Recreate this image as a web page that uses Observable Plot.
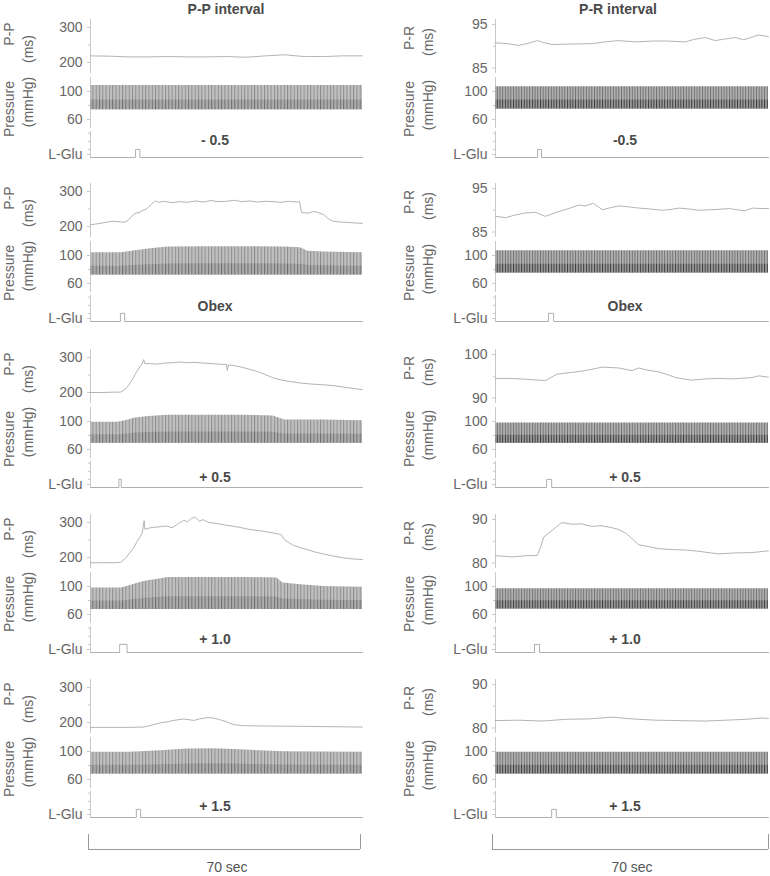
<!DOCTYPE html>
<html><head><meta charset="utf-8">
<script src="https://cdn.jsdelivr.net/npm/d3@7"></script>
<script src="https://cdn.jsdelivr.net/npm/@observablehq/plot@0.6"></script>
<style>
body{margin:0;background:#fff;}
#wrap{position:relative;width:770px;height:876px;overflow:hidden;font-family:"Liberation Sans",Arial,sans-serif;color:#666;}
.lbl{position:absolute;white-space:nowrap;font-size:14px;line-height:1;transform:translate(-50%,-50%);}
.rot{transform:translate(-50%,-50%) rotate(-90deg);}
.bold{font-weight:bold;color:#4a4a4a;}
.cap{color:#555;}
</style></head><body><div id="wrap"></div>
<script>
// ---------------- data ----------------
const timeDomain = [0, 70];
const columnTitles = ["P-P interval", "P-R interval"];
const condLeft = ["- 0.5", "Obex", "+ 0.5", "+ 1.0", "+ 1.5"];
const condRight = ["-0.5", "Obex", "+ 0.5", "+ 1.0", "+ 1.5"];
const ppTicks = [200, 300];
const ppMinor = [250];
const prTicksLo = [85, 85, 90, 80, 80];
const prTicksHi = [95, 95, 100, 90, 90];
const pressureTicks = [60, 100];
const pressureMinor = [80];
const scaleBarSec = [0, 70];
const scaleBarLabel = "70 sec";

// P-P interval (ms), left column
const ppTimeM05 = [0,5,10,15,20,25,30,35,40,45,50,55,60,65,70];
const ppValM05  = [219,218,216,216,217,216,216,217,215,219,222,217,217,219,219];
const ppTimeObex = [0,2,4,5.5,7,8.6,9.5,10.5,11.5,12.5,13.5,14.6,15.5,16.7,17.5,19,21,23,25,27,29,31,33,35,37,39,41,43,45,47,49,51,53,53.8,54.3,56,57.5,58.5,60,61.5,62.5,64,66,68,70];
const ppValObex  = [205,208,212,215,214,212,216,228,238,240,246,252,262,273,269,272,268,271,269,273,270,274,271,272,275,271,273,270,272,271,269,272,270,271,240,238,243,240,234,220,215,213,212,210,209];
const ppTimeP05 = [0,3,6,7.7,8.5,9.5,10.5,11.5,12.5,13.2,13.7,14,15,17,19,21,23,25,27,29,31,33,35,35.2,35.5,37,39,41,43,45,47,49,51,54,57,60,63,66,70];
const ppValP05  = [200,200,201,201,206,216,232,252,270,280,294,282,283,281,284,285,287,285,286,284,283,281,280,263,279,277,272,266,260,251,242,236,232,227,224,222,219,214,208];
const ppTimeP10 = [0,3,6,7.7,9,10,11,12,13.3,13.8,14,15,16,18,19.7,21,22.5,24,25,26,27,28,29,30.5,32.6,35,38,41,44,46,48,49,50,52,54,56,58,60,62.5,65,67.5,70];
const ppValP10  = [185,185,185,186,198,212,226,246,269,305,281,284,286,288,290,285,296,306,302,312,315,304,308,300,297,292,287,280,276,272,268,266,250,236,228,222,215,210,204,199,196,194];
const ppTimeP15 = [0,5,10,13.7,16,18,19.7,22,24,26.6,28,30,31.5,33,35,36.8,39.4,45,55,62,70];
const ppValP15  = [186,186,186,187,193,199,202,207,210,206,210,214,213,209,202,194,191,190,189,188,187];

// P-R interval (ms), right column
const prTimeM05 = [0,3,5.9,8.5,10.8,12.5,14.6,19,24.9,28,31.6,36,40.3,44,48.7,51,53.8,56.4,59,61.5,63.6,65.5,67.4,70];
const prValM05  = [90.8,90.6,90.2,90.7,91.3,90.8,90.4,90.5,90.6,91.0,91.3,91.0,91.2,91.2,91.0,91.6,92.0,91.3,91.7,92.0,91.5,92.0,92.6,92.2];
const prTimeObex = [0,2.6,5,7.7,10.3,12.8,14,16.2,18.5,21.3,23,25.1,27.4,29.5,31.6,34,36.7,39.5,42.8,45,47,49.5,52,54.5,57.2,60,62,64,65.8,68,70];
const prValObex  = [88.6,88.3,88.9,89.4,89.5,88.6,89.0,89.7,90.3,91.2,91.0,91.6,90.1,90.6,91.0,90.8,90.5,90.3,90.0,90.2,90.5,90.3,90.0,90.1,90.2,90.4,90.1,89.9,90.5,90.4,90.4];
const prTimeP05 = [0,4,8,12.8,15.8,19.7,23,27.4,31.6,35,36.7,39,41.9,44,46.2,48,50.4,54,57.2,61,65.8,67.5,70];
const prValP05  = [94.5,94.5,94.3,94.0,95.5,95.9,96.3,97.1,96.9,96.3,96.9,96.4,96.0,95.4,94.7,94.4,94.1,94.4,94.5,94.4,94.7,95.1,94.8];
const prTimeP10 = [0,4.3,8,10.7,11.5,12.4,14.5,17,19.7,22,24.8,27,29.9,31.6,33.5,35,36.7,39,41.9,45,48.7,52,57.2,61,65.8,70];
const prValP10  = [81.7,81.4,81.7,81.7,83.5,86.0,87.5,89.3,88.9,89.0,88.4,88.6,88.1,87.7,86.8,85.6,84.2,83.8,83.3,83.1,83.0,82.7,82.1,82.3,82.4,82.8];
const prTimeP15 = [0,6,12,18,24,29.9,35,41,47,53.8,59,64,68.4,70];
const prValP15  = [81.7,81.8,81.6,82.0,82.1,82.5,82.1,81.8,81.7,81.6,81.8,82.0,82.3,82.2];

// Blood pressure envelope (mmHg), left column
const bpTimeLM05 = [0,35,70];
const bpTopLM05  = [108.5,108.5,108.5];
const bpBotLM05  = [74,74,74];
const bpTimeLObex = [0,8,12,16,20,30,40,50,54,56,60,70];
const bpTopLObex  = [104,104,107,110,112,112.5,112.5,112,111,106,105,104];
const bpBotLObex  = [72,72,72,72,72,72,72,72,72,72,72,72];
const bpTimeLP05 = [0,7,9,11.5,15,20,30,40,47,50,60,70];
const bpTopLP05  = [99,99,101,105,107,109,109,109,108,102,102,101];
const bpBotLP05  = [69,69,69,69,69,69,69,69,69,69,69,69];
const bpTimeLP10 = [0,8,10,13.7,17,20,30,40,48,49.5,55,60,70];
const bpTopLP10  = [97.7,98,101,107,110,113,113,113,112,105,102,100,99];
const bpBotLP10  = [67,67,67,67,67,67,67,67,67,67,67,67,67];
const bpTimeLP15 = [0,10,18,25,32,40,50,70];
const bpTopLP15  = [99,99,101,103.5,104,102,99.5,99];
const bpBotLP15  = [68,68,68,68,68,68,68,68];
// Blood pressure envelope (mmHg), right column (steady)
const bpTopRight = [106.7,106.7,97.7,96.8,99];
const bpBotRight = [75,74.8,69,68,68];

// L-Glu injection pulses (s)
const ppPulseStart = [11.6, 7.7, 7.3, 7.5, 11.8];
const ppPulseEnd   = [12.7, 8.8, 7.9, 9.4, 12.9];
const prPulseStart = [10.8, 13.6, 13.1, 10.0, 14.4];
const prPulseEnd   = [11.8, 14.9, 14.4, 11.3, 15.6];

// ---------------- build ----------------
const zip = (t, v) => t.map((x, i) => ({t: x, v: v[i]}));
const band = (t, top, bot) => t.map((x, i) => ({t: x, top: top[i], bot: bot[i]}));
const pulse = (s, e) => [{t: timeDomain[0], v: 0}, {t: s, v: 0}, {t: s, v: 1}, {t: e, v: 1}, {t: e, v: 0}, {t: timeDomain[1], v: 0}];

const leftPP = [zip(ppTimeM05, ppValM05), zip(ppTimeObex, ppValObex), zip(ppTimeP05, ppValP05), zip(ppTimeP10, ppValP10), zip(ppTimeP15, ppValP15)];
const rightPR = [zip(prTimeM05, prValM05), zip(prTimeObex, prValObex), zip(prTimeP05, prValP05), zip(prTimeP10, prValP10), zip(prTimeP15, prValP15)];
const leftBP = [band(bpTimeLM05, bpTopLM05, bpBotLM05), band(bpTimeLObex, bpTopLObex, bpBotLObex), band(bpTimeLP05, bpTopLP05, bpBotLP05), band(bpTimeLP10, bpTopLP10, bpBotLP10), band(bpTimeLP15, bpTopLP15, bpBotLP15)];
const rightBP = bpTopRight.map((top, i) => band(timeDomain, [top, top], [bpBotRight[i], bpBotRight[i]]));

const wrap = document.getElementById("wrap");
const rowOffsets = [0, 164, 330, 495, 660];
const condY = [140, 142, 147, 144, 146];
const geom = [{left: 0, width: 370, ml: 90, mr: 8}, {left: 405, width: 365, ml: 90, mr: 2}];
const baseStyle = {fontSize: "14px", fontFamily: "'Liberation Sans', Arial, sans-serif", color: "#666", background: "transparent", overflow: "visible"};

function place(svg, left, top) {
  svg.style.position = "absolute";
  svg.style.left = left + "px";
  svg.style.top = top + "px";
  wrap.appendChild(svg);
}
function label(text, x, y, cls) {
  const d = document.createElement("div");
  d.className = "lbl " + (cls || "");
  d.textContent = text;
  d.style.left = x + "px";
  d.style.top = y + "px";
  wrap.appendChild(d);
}
function trackPlot(col, height, yDomain, ticks, minor, tickFormat, marks) {
  const g = geom[col];
  return Plot.plot({
    width: g.width, height, marginLeft: g.ml, marginRight: g.mr, marginTop: 0, marginBottom: 0,
    style: baseStyle,
    x: {domain: timeDomain, axis: null},
    y: {domain: yDomain, axis: null},
    marks: [
      Plot.ruleX([timeDomain[0]], {stroke: "#c8c8c8", strokeWidth: 1}),
      Plot.axisY(minor, {tickSize: 2, tickFormat: () => "", stroke: "#c8c8c8", label: null}),
      Plot.axisY(ticks, {tickSize: 3, tickPadding: 5, stroke: "#c8c8c8", tickFormat, label: null}),
      ...marks
    ]
  });
}
let patId = 0;
function addPatterns(svg, specs) {
  const defs = d3.select(svg).insert("defs", ":first-child");
  for (const s of specs) {
    const p = defs.append("pattern").attr("id", s.id).attr("patternUnits", "userSpaceOnUse").attr("width", s.w).attr("height", 10);
    p.append("rect").attr("width", s.w).attr("height", 10).attr("fill", s.bg);
    p.append("rect").attr("x", 0).attr("width", s.lw).attr("height", 10).attr("fill", s.fg);
  }
}

// column titles
label(columnTitles[0], 226, 9, "bold");
label(columnTitles[1], 618, 9, "bold");

for (let r = 0; r < 5; r++) {
  const R = rowOffsets[r];
  for (let c = 0; c < 2; c++) {
    const g = geom[c];
    // interval track
    let yDom, ticks, minor, data;
    if (c === 0) {
      const pxPer = 0.35; // px per ms
      yDom = [ppTicks[0] - 11 / pxPer, ppTicks[1] + 8 / pxPer];
      ticks = ppTicks; minor = ppMinor; data = leftPP[r];
    } else {
      const lo = prTicksLo[r], hi = prTicksHi[r];
      yDom = [lo - 1.26, hi + 1.15];
      ticks = [lo, hi]; minor = [(lo + hi) / 2]; data = rightPR[r];
    }
    place(trackPlot(c, 54, yDom, ticks, minor, d3.format("d"), [
      Plot.line(data, {x: "t", y: "v", stroke: "#a6a6a6", strokeWidth: 0.85})
    ]), g.left, R + 19);

    // pressure track
    const idA = "pat" + (patId++), idB = "pat" + (patId++);
    const bp = c === 0 ? leftBP[r] : rightBP[r];
    const svgP = trackPlot(c, 51, [47.1, 120], pressureTicks, pressureMinor, d3.format("d"), [
      Plot.areaY(bp, {x: "t", y1: "bot", y2: "top", fill: `url(#${idA})`}),
      Plot.areaY(bp, {x: "t", y1: "bot", y2: d => d.bot + (d.top - d.bot) * 0.4, fill: `url(#${idB})`})
    ]);
    if (c === 0) {
      addPatterns(svgP, [{id: idA, w: 3.3, lw: 1, bg: "#c0c0c0", fg: "#8e8e8e"}, {id: idB, w: 3.3, lw: 1, bg: "#acacac", fg: "#6e6e6e"}]);
    } else {
      addPatterns(svgP, [{id: idA, w: 2.7, lw: 1, bg: "#b2b2b2", fg: "#727272"}, {id: idB, w: 2.7, lw: 1, bg: "#9c9c9c", fg: "#3c3c3c"}]);
    }
    place(svgP, g.left, R + 77);

    // L-Glu track
    const ps = c === 0 ? pulse(ppPulseStart[r], ppPulseEnd[r]) : pulse(prPulseStart[r], prPulseEnd[r]);
    const gl = geom[c];
    const svgG = Plot.plot({
      width: gl.width, height: 27, marginLeft: gl.ml, marginRight: gl.mr, marginTop: 0, marginBottom: 1,
      style: baseStyle,
      x: {domain: timeDomain, axis: null},
      y: {domain: [0, 3.2], axis: null},
      marks: [
        Plot.ruleX([timeDomain[0]], {stroke: "#c8c8c8", strokeWidth: 1}),
        Plot.axisY([1, 2, 3], {tickSize: 2, tickFormat: () => "", stroke: "#c8c8c8", label: null}),
        Plot.axisY([0], {tickSize: 3, tickPadding: 5, stroke: "#c8c8c8", tickFormat: () => "L-Glu", label: null, dy: -3}),
        Plot.line(ps, {x: "t", y: "v", stroke: "#a6a6a6", strokeWidth: 0.9})
      ]
    });
    place(svgG, gl.left, R + 131);
  }
  // rotated axis labels
  label("P-P", 9, R + 34, "rot");
  label("(ms)", 28, R + 49, "rot");
  label("Pressure", 9, R + 109, "rot");
  label("(mmHg)", 28, R + 102, "rot");
  label("P-R", 409, R + 38, "rot");
  label("(ms)", 428, R + 42, "rot");
  label("Pressure", 409, R + 109, "rot");
  label("(mmHg)", 428, R + 105, "rot");
  // condition labels
  label(condLeft[r], 215, R + condY[r], "bold");
  label(condRight[r], 625, R + condY[r], "bold");
}

// scale bars
const barGeom = [{left: 0, width: 370, ml: 88, mr: 10, cx: 227}, {left: 405, width: 365, ml: 87, mr: 2, cx: 632}];
for (const b of barGeom) {
  const svgB = Plot.plot({
    width: b.width, height: 16, marginLeft: b.ml, marginRight: b.mr, marginTop: 0, marginBottom: 1,
    style: baseStyle,
    x: {domain: scaleBarSec, axis: null},
    y: {domain: [0, 1], axis: null},
    marks: [
      Plot.ruleY([0], {x1: scaleBarSec[0], x2: scaleBarSec[1], stroke: "#999"}),
      Plot.ruleX(scaleBarSec, {y1: 0, y2: 1, stroke: "#999"})
    ]
  });
  place(svgB, b.left, 834);
  label(scaleBarLabel, b.cx, 867, "cap");
}
</script></body></html>
